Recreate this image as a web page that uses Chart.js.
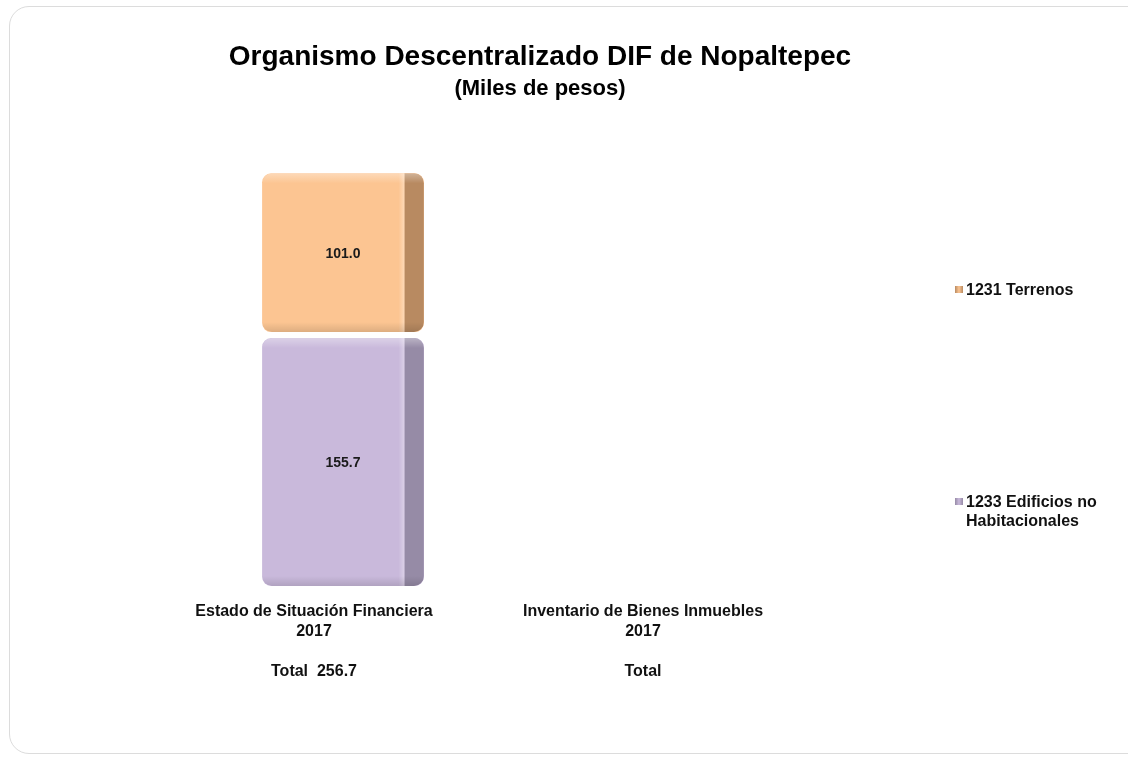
<!DOCTYPE html>
<html>
<head>
<meta charset="utf-8">
<script src="https://cdn.jsdelivr.net/npm/chart.js@4/dist/chart.umd.min.js"></script>
<style>
  html, body { margin: 0; padding: 0; background: #fff; overflow: hidden; }
  body { width: 1128px; height: 757px; position: relative; }
  #frame {
    position: absolute; left: 9px; top: 6px; width: 1140px; height: 748px;
    border: 1px solid #dcdcdc; border-radius: 20px; box-sizing: border-box;
  }
  #wrap { position: absolute; left: 0; top: 0; width: 1080px; height: 757px; }
  .leg {
    position: absolute; left: 955px; font: bold 16px "Liberation Sans", Arial, sans-serif;
    color: #111; line-height: 19px; width: 170px;
  }
  .leg .box { position: absolute; left: 0; top: 6px; width: 8px; height: 7px; }
  .leg .txt { display: block; margin-left: 11px; width: 155px; }
</style>
</head>
<body>
<div id="frame"></div>
<div id="wrap"><canvas id="chart"></canvas></div>
<div id="legend"></div>
<script>
// Data
const categories = [
  ['Estado de Situación Financiera', '2017', '', 'Total  256.7'],
  ['Inventario de Bienes Inmuebles', '2017', '', 'Total']
];
const seriesNames = ['1233 Edificios no Habitacionales', '1231 Terrenos'];
const edificios = [155.7, null];
const terrenos = [101.0, null];

// Colours: front face / side face
const frontColors = ['#c9b9db', '#fcc592'];
const sideColors = ['#968ba6', '#b88a61'];

const narrow = '"Liberation Sans Narrow", "Arial Narrow", "Liberation Sans", Arial, sans-serif';
const radius = { topLeft: 12, topRight: 12, bottomLeft: 12, bottomRight: 12 };

// Draws the 3D side face and value inside each bar
const bar3d = {
  id: 'bar3d',
  afterDatasetsDraw(chart) {
    const ctx = chart.ctx;
    chart.data.datasets.forEach((ds, di) => {
      const meta = chart.getDatasetMeta(di);
      meta.data.forEach((el, i) => {
        if (ds.data[i] == null) return;
        const p = el.getProps(['x', 'y', 'base', 'width'], true);
        const b = 3;
        const left = p.x - p.width / 2 + b;
        const right = p.x + p.width / 2 - b;
        const top = Math.min(p.y, p.base) + b;
        const bottom = Math.max(p.y, p.base) - b;
        const side = (right - left) * 0.12;
        ctx.save();
        ctx.beginPath();
        ctx.roundRect(left, top, right - left, bottom - top, 10);
        ctx.clip();
        // side face
        ctx.fillStyle = sideColors[di];
        ctx.fillRect(right - side, top, side, bottom - top);
        // highlight edge between front and side
        let g = ctx.createLinearGradient(right - side - 6, 0, right - side, 0);
        g.addColorStop(0, 'rgba(255,255,255,0)');
        g.addColorStop(1, 'rgba(255,255,255,0.35)');
        ctx.fillStyle = g;
        ctx.fillRect(right - side - 6, top, 6, bottom - top);
        // top highlight
        g = ctx.createLinearGradient(0, top, 0, top + 10);
        g.addColorStop(0, 'rgba(255,255,255,0.35)');
        g.addColorStop(1, 'rgba(255,255,255,0)');
        ctx.fillStyle = g;
        ctx.fillRect(left, top, right - left, 10);
        // bottom shade
        g = ctx.createLinearGradient(0, bottom - 10, 0, bottom);
        g.addColorStop(0, 'rgba(0,0,0,0)');
        g.addColorStop(1, 'rgba(0,0,0,0.12)');
        ctx.fillStyle = g;
        ctx.fillRect(left, bottom - 10, right - left, 10);
        ctx.restore();
        // value label
        ctx.save();
        ctx.fillStyle = '#1a1a1a';
        ctx.font = 'bold 14px ' + narrow;
        ctx.textAlign = 'center';
        ctx.textBaseline = 'middle';
        ctx.fillText(ds.data[i].toFixed(1), p.x, (top + bottom) / 2 + 1);
        ctx.restore();
      });
    });
  }
};

new Chart(document.getElementById('chart'), {
  type: 'bar',
  data: {
    labels: categories,
    datasets: [
      {
        label: seriesNames[0],
        data: edificios,
        backgroundColor: frontColors[0],
        borderColor: '#ffffff',
        borderWidth: 3,
        borderRadius: radius,
        borderSkipped: false
      },
      {
        label: seriesNames[1],
        data: terrenos,
        backgroundColor: frontColors[1],
        borderColor: '#ffffff',
        borderWidth: 3,
        borderRadius: radius,
        borderSkipped: false
      }
    ]
  },
  options: {
    responsive: true,
    maintainAspectRatio: false,
    animation: false,
    layout: { padding: { left: 0, right: 0, top: 40, bottom: 70 } },
    datasets: { bar: { barPercentage: 0.51, categoryPercentage: 1 } },
    plugins: {
      legend: { display: false },
      tooltip: { enabled: false },
      title: {
        display: true,
        text: 'Organismo Descentralizado DIF de Nopaltepec',
        color: '#000',
        font: { family: narrow, size: 28, weight: 'bold' },
        padding: { top: 0, bottom: 2 }
      },
      subtitle: {
        display: true,
        text: '(Miles de pesos)',
        color: '#000',
        font: { family: narrow, size: 22, weight: 'bold' },
        padding: { top: 0, bottom: 14 }
      }
    },
    scales: {
      x: {
        stacked: true,
        grid: { display: false },
        border: { display: false },
        ticks: {
          color: '#111',
          maxRotation: 0,
          autoSkip: false,
          labelOffset: -29,
          font: { family: narrow, size: 16, weight: 'bold', lineHeight: 1.25 },
          padding: 5
        }
      },
      y: {
        stacked: true,
        position: 'left',
        min: 0,
        max: 290,
        grid: { display: false },
        border: { display: false },
        ticks: { display: false },
        afterFit(scale) { scale.width = 178.5; }
      },
      yRight: {
        position: 'right',
        grid: { display: false },
        border: { display: false },
        ticks: { display: false },
        afterFit(scale) { scale.width = 243.5; }
      }
    }
  },
  plugins: [bar3d]
});

// Legend (HTML, built from the series names and colours)
const legendTops = [280, 492];
const legendOrder = [1, 0];
const legend = document.getElementById('legend');
legendOrder.forEach((i, k) => {
  const d = document.createElement('div');
  d.className = 'leg';
  d.style.top = legendTops[k] + 'px';
  d.innerHTML = '<span class="box" style="background:linear-gradient(90deg,' + sideColors[i] + ',' +
    frontColors[i] + ',' + sideColors[i] + ')"></span><span class="txt">' + seriesNames[i] + '</span>';
  legend.appendChild(d);
});
</script>
</body>
</html>
